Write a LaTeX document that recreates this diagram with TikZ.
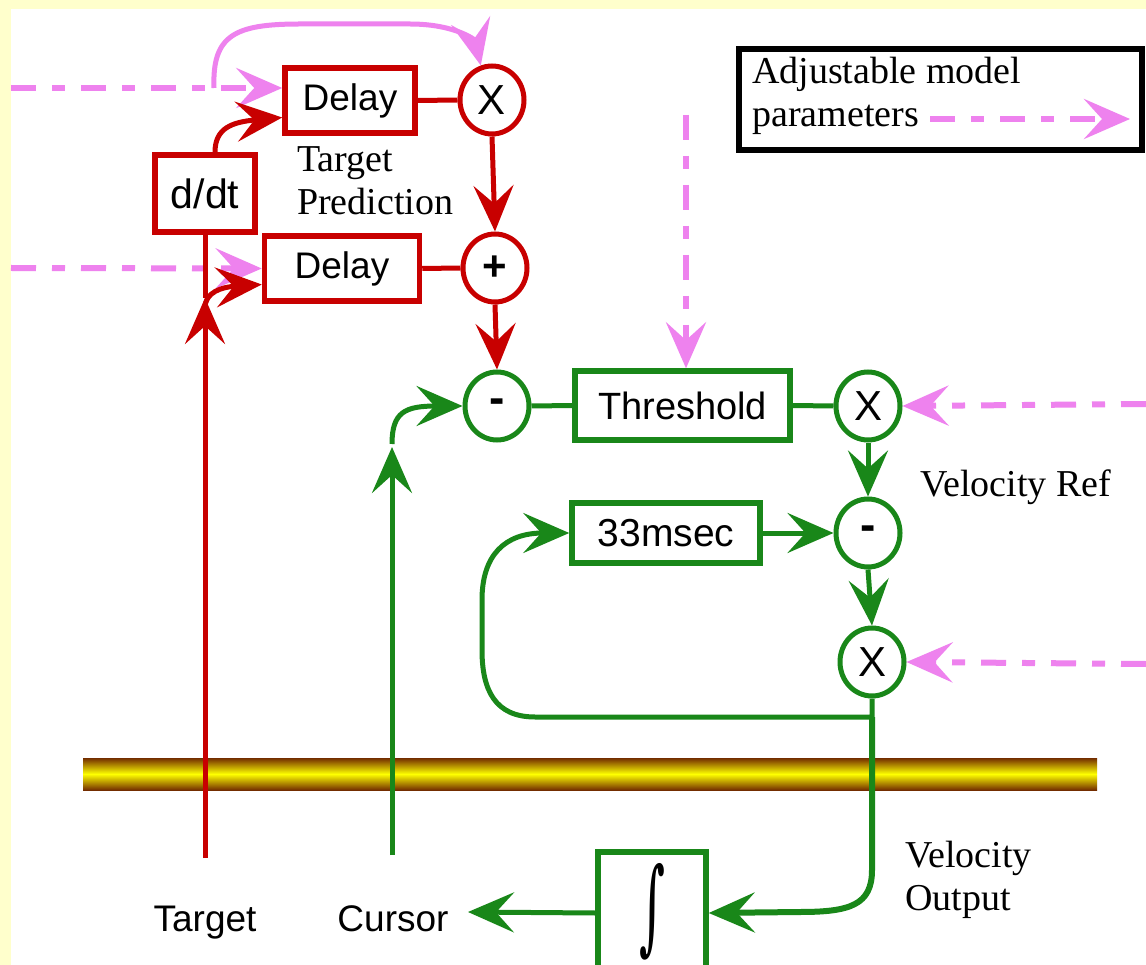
\documentclass[tikz,border=0pt]{standalone}
\usepackage{fontspec}
\setmainfont{Liberation Serif}
\newfontfamily\arialf{Liberation Sans}
\newfontfamily\djserif{DejaVu Serif}
\usetikzlibrary{arrows.meta,shapes.geometric}
\definecolor{cred}{RGB}{200,0,0}
\definecolor{cgreen}{RGB}{25,135,25}
\definecolor{cpink}{RGB}{238,130,238}
\definecolor{cbg}{RGB}{255,255,204}
\definecolor{cbrown}{RGB}{115,45,0}
\begin{document}
\begin{tikzpicture}[x=1pt,y=-1pt,
  box/.style={draw, line width=5.5pt, fill=white, inner sep=0pt, font=\arialf\fontsize{38}{42}\selectfont},
  rbox/.style={box, draw=cred},
  gbox/.style={box, draw=cgreen},
  op/.style={ellipse, draw, line width=5pt, fill=white, inner sep=0pt, minimum width=64pt, minimum height=68pt, font=\arialf\fontsize{42}{46}\selectfont},
  rop/.style={op, draw=cred},
  gop/.style={op, draw=cgreen},
  rline/.style={draw=cred, line width=5pt},
  gline/.style={draw=cgreen, line width=5pt},
  tip/.style={-{Stealth[length=46pt,width=40pt,inset=18pt]}},
  rarr/.style={rline, tip},
  garr/.style={gline, tip},
  pdash/.style={draw=cpink, line width=6pt, dash pattern=on 25pt off 16pt on 13pt off 16pt, tip},
  parc/.style={draw=cpink, line width=5pt, tip},
  lab/.style={font=\fontsize{38}{43}\selectfont, inner sep=0pt},
  sl/.style={font=\arialf\fontsize{37}{40}\selectfont, inner sep=0pt}]
\useasboundingbox (0,0) rectangle (1146,965);
\fill[cbg] (0,0) rectangle (1146,965);
\fill[white] (11,9) rectangle (1146,965);
% gold bar
\shade[top color=cbrown, bottom color=cbrown, middle color=yellow] (83,758) rectangle (1097,790);

% red nodes
\node[rbox, minimum width=130pt, minimum height=65pt, font=\arialf\fontsize{37}{40}\selectfont] (delay1) at (350,100.5) {Delay};
\node[rop] (mulR) at (492,100) {X};
\node[rbox, minimum width=100pt, minimum height=77pt, font=\arialf\fontsize{41}{44}\selectfont] (ddt) at (205,193.5) {d/dt};
\node[rbox, minimum width=155pt, minimum height=65pt, font=\arialf\fontsize{37}{40}\selectfont] (delay2) at (342,268.5) {Delay};
\node[rop] (plus) at (495,268) {\bfseries +};
\node[lab, anchor=base west] (tp1) at (297,172) {Target};
\node[lab, anchor=base west] (tp2) at (297,215) {Prediction};

% green nodes
\node[gop] (minus1) at (497,406) {\bfseries\fontsize{46}{46}\selectfont -};
\node[gbox, minimum width=215pt, minimum height=69pt] (thresh) at (682.5,405.5) {Threshold};
\node[gop] (mulG1) at (868,406) {X};
\node[gbox, minimum width=188pt, minimum height=60pt, font=\arialf\fontsize{39}{42}\selectfont] (box33) at (666,533) {33msec};
\node[gop] (minus2) at (868,533) {\bfseries\fontsize{46}{46}\selectfont -};
\node[gop] (mulG2) at (872,662) {X};
\node[gbox, minimum width=108pt, minimum height=122pt] (integ) at (652,913) {};
\node[inner sep=0pt] (integsym) at (652,912) {\resizebox{26pt}{78pt}{\djserif ∫}};
\node[lab, anchor=base west] (vref) at (920,496) {Velocity Ref};
\node[lab, anchor=base west] (vout1) at (905,867) {Velocity};
\node[lab, anchor=base west] (vout2) at (905,910) {Output};
\node[sl, anchor=base] (target) at (205,931) {Target};
\node[sl, anchor=base] (cursor) at (393,931) {Cursor};

% legend
\node[draw, line width=6pt, minimum width=403pt, minimum height=101pt, inner sep=0pt] (legend) at (940,100) {};
\node[lab, anchor=base west] (lg1) at (752,84) {Adjustable model};
\node[lab, anchor=base west] (lg2) at (752,127) {parameters};
\coordinate (lgA) at (930,119);
\coordinate (lgB) at (1130,119);
\draw[pdash] (lgA) -- (lgB);

% coordinates
\coordinate (pL1) at (11,88);
\coordinate (pL2) at (11,268);
\coordinate (arcS) at (214,88);
\coordinate (pTop) at (686,115);
\coordinate (pR1) at (1146,404);
\coordinate (pR2) at (1146,664);
\coordinate (tgtop) at (205,858);
\coordinate (split) at (205,298);
\coordinate (curtop) at (392,855);
\coordinate (curtip) at (392,447);
\coordinate (curin) at (468,912);
\coordinate (loopR) at (872,717);

% pink connectors
\draw[pdash] (pL1) -- ([yshift=12.5pt]delay1.west);
\draw[parc] (arcS) .. controls (212,35) and (235,24) .. (300,24) -- (410,24) .. controls (455,24) and (475,40) .. (mulR.108);
\draw[pdash] (pL2) -- (delay2.west);
\draw[pdash] (pTop) -- (thresh.north -| pTop);
\draw[pdash] (pR1) -- (mulG1.east);
\draw[pdash] (pR2) -- (mulG2.east);

% red connectors
\draw[rline] (delay1.east) -- (mulR.west);
\draw[rline] (delay2.east) -- (plus.west);
\draw[rarr] (mulR.south) -- (plus.north);
\draw[rarr] (plus.south) -- (minus1.north);
\draw[rarr] ([xshift=10pt]ddt.north) .. controls (215,128) and (232,122) .. ([yshift=-17pt]delay1.west);
\draw[rline] (split) -- (ddt.south);
\draw[rarr] (tgtop) -- (split);
\draw[rarr] ([yshift=-10pt]split) .. controls (205,292) and (222,287) .. ([yshift=-16pt]delay2.west);

% green connectors
\draw[gline] (minus1.east) -- (thresh.west);
\draw[gline] (thresh.east) -- (mulG1.west);
\draw[garr] (mulG1.south) -- (minus2.north);
\draw[garr] (minus2.south) -- (mulG2.north);
\draw[garr] (box33.east) -- (minus2.west);
\draw[garr] (curtop) -- (curtip);
\draw[garr] ([yshift=3pt]curtip) .. controls (392,412) and (405,406) .. (minus1.west);
\draw[garr] (mulG2.south) -- (loopR) -- (535,717) .. controls (495,717) and (482,690) .. (482,650) -- (482,600) .. controls (482,555) and (505,533) .. (box33.west);
\draw[garr, line width=6pt] (loopR) -- (872,870) .. controls (872,905) and (850,912) .. (800,912) -- (integ.east);
\draw[garr] (integ.west) -- (curin);
\end{tikzpicture}
\end{document}
